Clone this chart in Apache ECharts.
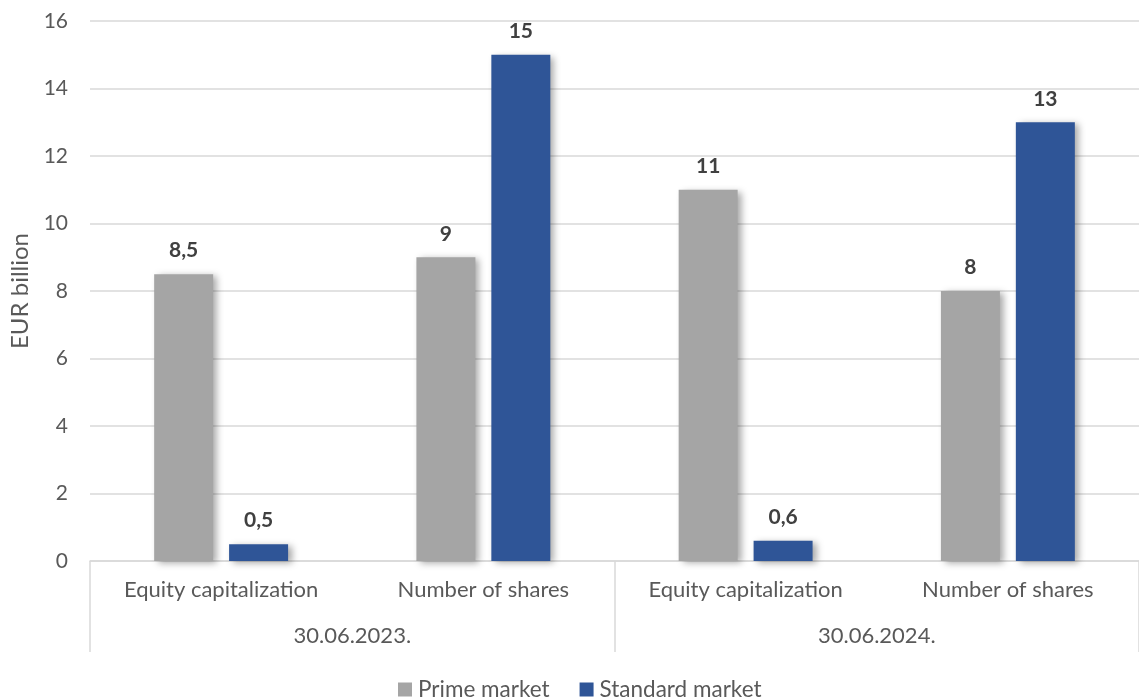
<!DOCTYPE html>
<html><head><meta charset="utf-8">
<script src="https://cdn.jsdelivr.net/npm/echarts@6/dist/echarts.min.js"></script>
<style>html,body{margin:0;padding:0;background:#fff}#c{width:1139px;height:698px}</style>
</head><body><div id="c"></div>
<script>
const categories = ['Equity capitalization', 'Number of shares', 'Equity capitalization', 'Number of shares'];
const groups = ['30.06.2023.', '30.06.2024.'];
const primeMarket = [8.5, 9, 11, 8];
const standardMarket = [0.5, 15, 0.6, 13];
const yTicks = {min: 0, max: 16, interval: 2};

const font = 'Lato, "Open Sans", sans-serif';
const shadow = {shadowBlur: 7, shadowOffsetX: 4, shadowOffsetY: 2, shadowColor: 'rgba(0,0,0,0.35)'};
const lbl = {
  show: true, position: 'top', distance: 13,
  fontFamily: font, fontSize: 21, fontWeight: 'bold', color: '#404040',
  formatter: p => String(p.value).replace('.', ',')
};
const chart = echarts.init(document.getElementById('c'));
chart.setOption({
  animation: false,
  grid: {left: 90, width: 1056, top: 21, bottom: 137},
  legend: {
    top: 673, left: 393, itemWidth: 14, itemHeight: 14, itemGap: 30,
    icon: 'rect',
    textStyle: {fontFamily: font, fontSize: 22.5, color: '#595959', padding: [0, 0, 0, 1]},
    data: ['Prime market', 'Standard market']
  },
  xAxis: [
    {
      type: 'category', data: categories, position: 'bottom',
      axisLine: {show: true, lineStyle: {color: '#D9D9D9', width: 1.5}},
      axisTick: {show: false},
      axisLabel: {fontFamily: font, fontSize: 22, color: '#595959', margin: 18}
    },
    {
      type: 'category', data: groups, position: 'bottom',
      axisLine: {show: false},
      axisTick: {show: true, length: 91, inside: false, alignWithLabel: false, lineStyle: {color: '#D9D9D9', width: 1.5}},
      axisLabel: {fontFamily: font, fontSize: 22, color: '#595959', margin: 64},
      splitLine: {show: false}
    }
  ],
  yAxis: {
    type: 'value', min: yTicks.min, max: yTicks.max, interval: yTicks.interval,
    name: 'EUR billion', nameLocation: 'middle', nameGap: 58, nameRotate: 90,
    nameTextStyle: {fontFamily: font, fontSize: 24, color: '#595959'},
    axisLine: {show: false}, axisTick: {show: false},
    axisLabel: {fontFamily: font, fontSize: 21, color: '#595959', margin: 22},
    splitLine: {lineStyle: {color: '#D9D9D9', width: 1.5}}
  },
  series: [
    {name: 'Prime market', type: 'bar', data: primeMarket, barWidth: 59, barGap: '27%',
     itemStyle: Object.assign({color: '#A5A5A5'}, shadow), label: lbl},
    {name: 'Standard market', type: 'bar', data: standardMarket, barWidth: 59,
     itemStyle: Object.assign({color: '#2F5597'}, shadow), label: lbl}
  ]
});
</script></body></html>
